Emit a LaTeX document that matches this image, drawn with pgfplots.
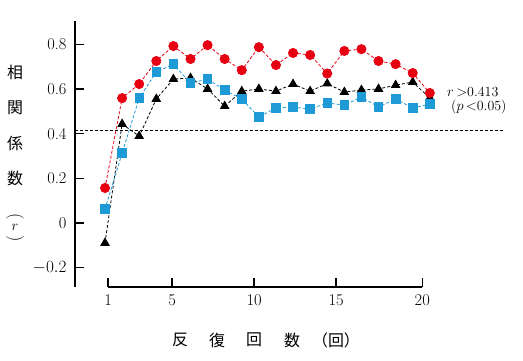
\documentclass[border=0pt]{standalone}
\usepackage{pgfplots}
\pgfplotsset{compat=1.18}
\usepackage{fontspec}
\newfontfamily\cjk{Noto Sans CJK JP}
\definecolor{cred}{HTML}{E60012}
\definecolor{cblue}{HTML}{1E9BD7}
\begin{document}
\begin{tikzpicture}[x=1bp,y=1bp]
\useasboundingbox (0,0) rectangle (523,360);
\begin{axis}[
  at={(75bp,73bp)}, anchor=south west,
  scale only axis, width=430bp, height=266bp,
  xmin=-0.756, xmax=24.4, ymin=-0.286, ymax=0.904,
  axis lines*=left,
  x axis line style={draw=none},
  y axis line style={line width=1.5bp},
  tick align=inside,
  xtick={1.18,4.92,9.72,14.52,19.56},
  xticklabels={1,5,10,15,20},
  ytick={-0.2,0,0.2,0.4,0.6,0.8},
  yticklabels={$-0.2$,0,0.2,0.4,0.6,0.8},
  x tick style={line width=1.3bp, black},
  y tick style={line width=1.3bp, black},
  major tick length=9bp,
  tick label style={font=\fontsize{16.5}{16.5}\selectfont},
  yticklabel style={xshift=-5bp},
  xticklabel style={yshift=-4bp},
  clip=false,
]
\addplot[black, dash pattern=on 3bp off 2bp, line width=1.1bp] coordinates {(-0.756,0.413) (24.3,0.413)};
\addplot[black, dash pattern=on 3bp off 2bp, line width=0.8bp, mark=triangle*, mark size=4.8bp, mark options={solid, fill=black}] coordinates {
(1,-0.089) (2,0.443) (3,0.389) (4,0.555) (5,0.644) (6,0.649) (7,0.600) (8,0.523) (9,0.590) (10,0.600)
(11,0.590) (12,0.622) (13,0.590) (14,0.624) (15,0.586) (16,0.595) (17,0.600) (18,0.617) (19,0.631) (20,0.559)};
\addplot[cblue, dash pattern=on 3bp off 2bp, line width=0.8bp, mark=square*, mark size=4.3bp, mark options={solid, fill=cblue}] coordinates {
(1,0.063) (2,0.313) (3,0.559) (4,0.676) (5,0.711) (6,0.626) (7,0.644) (8,0.595) (9,0.555) (10,0.474)
(11,0.515) (12,0.519) (13,0.510) (14,0.537) (15,0.528) (16,0.564) (17,0.519) (18,0.555) (19,0.515) (20,0.532)};
\addplot[cred, dash pattern=on 3bp off 2bp, line width=0.8bp, mark=*, mark size=4.6bp, mark options={solid, fill=cred}] coordinates {
(1,0.157) (2,0.559) (3,0.622) (4,0.725) (5,0.792) (6,0.734) (7,0.796) (8,0.734) (9,0.684) (10,0.787)
(11,0.707) (12,0.761) (13,0.752) (14,0.669) (15,0.770) (16,0.778) (17,0.725) (18,0.711) (19,0.671) (20,0.582)};
\draw[line width=1.5bp] (axis cs:1.18,-0.286) -- (axis cs:19.56,-0.286);
\end{axis}
% y label
\begin{scope}[every node/.style={font=\cjk\fontsize{16}{16}\selectfont, inner sep=0pt}]
\node at (15,287.5) {相};
\node at (15,252.5) {関};
\node at (15,217) {係};
\node at (15,182) {数};
\node at (180,20) {反};
\node at (217,20) {復};
\node at (254,20) {回};
\node at (292,20) {数};
\node at (336,20) {（回）};
\end{scope}
\node[rotate=-90, inner sep=0pt, font=\fontsize{18}{18}\selectfont] at (15,143) {(};
\node[inner sep=0pt, font=\fontsize{15}{15}\selectfont] at (15,132.5) {$r$};
\node[rotate=-90, inner sep=0pt, font=\fontsize{18}{18}\selectfont] at (15,121) {)};
% annotation
\node[anchor=base west, inner sep=0pt, font=\fontsize{14}{14}\selectfont] at (447,264) {$r\,{>}$0.413};
\node[anchor=base west, inner sep=0pt, font=\fontsize{14}{14}\selectfont] at (451,250) {($p\,{<}$0.05)};
\end{tikzpicture}
\end{document}
